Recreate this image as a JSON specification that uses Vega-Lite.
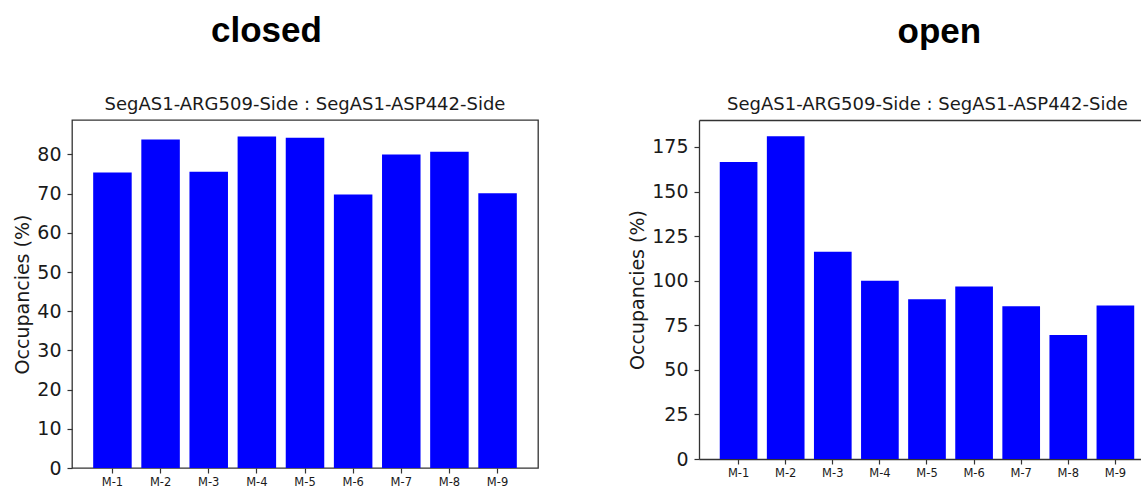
{
  "$schema": "https://vega.github.io/schema/vega-lite/v6.json",
  "padding": {"left": 13, "top": 14, "right": 0, "bottom": 0},
  "background": "white",
  "datasets": {
    "closed": [
      {"model": "M-1", "occupancy": 75.4},
      {"model": "M-2", "occupancy": 83.8},
      {"model": "M-3", "occupancy": 75.6},
      {"model": "M-4", "occupancy": 84.6},
      {"model": "M-5", "occupancy": 84.3},
      {"model": "M-6", "occupancy": 69.8},
      {"model": "M-7", "occupancy": 80.0},
      {"model": "M-8", "occupancy": 80.7},
      {"model": "M-9", "occupancy": 70.1}
    ],
    "open": [
      {"model": "M-1", "occupancy": 166.5},
      {"model": "M-2", "occupancy": 181.0},
      {"model": "M-3", "occupancy": 116.2},
      {"model": "M-4", "occupancy": 100.0},
      {"model": "M-5", "occupancy": 89.6},
      {"model": "M-6", "occupancy": 96.8},
      {"model": "M-7", "occupancy": 85.6},
      {"model": "M-8", "occupancy": 69.6},
      {"model": "M-9", "occupancy": 86.1}
    ]
  },
  "config": {
    "axis": {
      "labelFont": "DejaVu Sans",
      "titleFont": "DejaVu Sans",
      "labelColor": "#1a1a1a",
      "titleColor": "#1a1a1a",
      "tickColor": "#333333",
      "domainColor": "#333333",
      "domainWidth": 1.3,
      "tickWidth": 1.2,
      "grid": false,
      "tickSize": 5,
      "titleFontWeight": "normal"
    },
    "axisY": {"labelFontSize": 19, "titleFontSize": 19, "labelPadding": 6, "titlePadding": 4},
    "axisX": {"labelFontSize": 11.5, "labelPadding": 3, "labelAngle": 0},
    "title": {"color": "#1a1a1a"}
  },
  "spacing": 89,
  "hconcat": [
    {
      "title": {"text": "closed", "font": "Liberation Sans", "fontWeight": "bold", "fontSize": 35, "anchor": "middle", "dx": -9.5, "offset": 46, "color": "black"},
      "vconcat": [
        {
          "width": 466,
          "height": 348,
          "data": {"name": "closed"},
          "title": {"text": "SegAS1-ARG509-Side : SegAS1-ASP442-Side", "font": "DejaVu Sans", "fontSize": 18, "fontWeight": "normal", "anchor": "middle", "frame": "group", "offset": 6},
          "view": {"stroke": "#333333", "strokeWidth": 1.3},
          "mark": {"type": "bar", "color": "#0000ff"},
          "encoding": {
            "x": {"field": "model", "type": "nominal", "sort": null, "scale": {"paddingInner": 0.2, "paddingOuter": 0.44}, "axis": {"title": null, "domain": false}},
            "y": {"field": "occupancy", "type": "quantitative", "scale": {"domain": [0, 88.8], "nice": false}, "axis": {"values": [0, 10, 20, 30, 40, 50, 60, 70, 80], "title": "Occupancies (%)", "domain": false}}
          }
        }
      ]
    },
    {
      "title": {"text": "open", "font": "Liberation Sans", "fontWeight": "bold", "fontSize": 35, "anchor": "middle", "dx": 53, "offset": 46, "color": "black"},
      "vconcat": [
        {
          "width": 445,
          "height": 339,
          "data": {"name": "open"},
          "title": {"text": "SegAS1-ARG509-Side : SegAS1-ASP442-Side", "font": "DejaVu Sans", "fontSize": 18, "fontWeight": "normal", "anchor": "middle", "frame": "group", "dx": 6, "offset": 6},
          "view": {"stroke": null},
          "layer": [
            {
              "mark": {"type": "bar", "color": "#0000ff"},
              "encoding": {
                "x": {"field": "model", "type": "nominal", "sort": null, "scale": {"paddingInner": 0.2, "paddingOuter": 0.324, "align": 0.68}, "axis": {"title": null, "domain": true, "orient": "bottom"}},
                "y": {"field": "occupancy", "type": "quantitative", "scale": {"domain": [0, 190.1], "nice": false}, "axis": {"values": [0, 25, 50, 75, 100, 125, 150, 175], "title": "Occupancies (%)", "domain": true}}
              }
            },
            {
              "mark": {"type": "bar", "opacity": 0},
              "encoding": {
                "x": {"field": "model", "type": "nominal", "sort": null, "axis": {"orient": "top", "labels": false, "ticks": false, "domain": true, "title": null}}
              }
            }
          ],
          "resolve": {"axis": {"x": "independent"}}
        }
      ]
    }
  ]
}
